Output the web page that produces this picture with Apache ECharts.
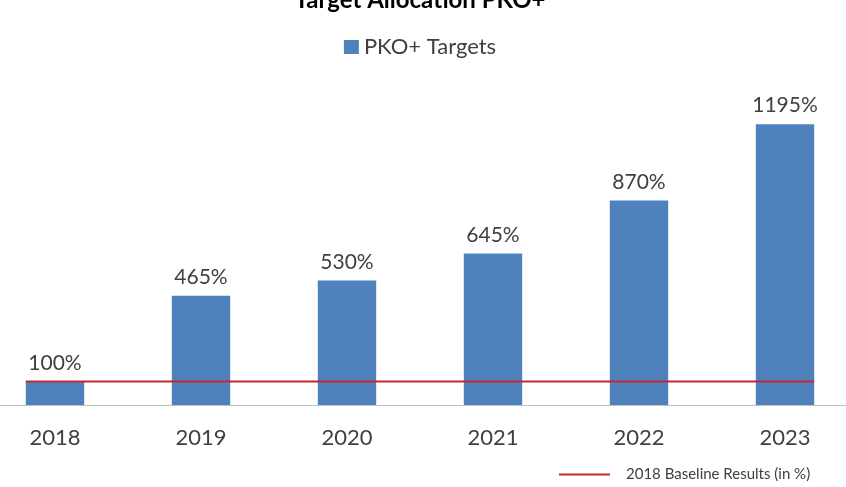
<!DOCTYPE html>
<html>
<head>
<meta charset="utf-8">
<script src="https://cdn.jsdelivr.net/npm/echarts@6/dist/echarts.min.js"></script>
<style>
  html, body { margin: 0; padding: 0; background: #fff; overflow: hidden; }
  /* the plot runs slightly past both window edges, so the chart box is a bit wider */
  #chart { width: 876px; height: 487px; margin-left: -18px; }
</style>
</head>
<body>
<div id="chart"></div>
<script>
// data
const years = ['2018', '2019', '2020', '2021', '2022', '2023']
const targets = [100, 465, 530, 645, 870, 1195]
const baselineValue = 100
// baseline runs from left edge of first bar to right edge of last one (in category units)
const baselineSpan = [0.3, 5.7]

let myChart = echarts.init(document.getElementById('chart'))
const font = 'Lato, "Open Sans", sans-serif'

myChart.setOption({
  animation: false,
  title: {
    text: 'Target Allocation PKO+',
    left: 'center',
    top: -17,
    textStyle: { fontFamily: font, fontSize: 24, fontWeight: 'bold', color: '#000' }
  },
  legend: [
    {
      data: ['PKO+ Targets'],
      top: 31,
      left: 'center',
      itemWidth: 15,
      itemHeight: 14,
      icon: 'rect',
      textStyle: { fontFamily: font, fontSize: 22, color: '#404040' }
    },
    {
      data: [{ name: '2018 Baseline Results (in %)', icon: 'rect' }],
      left: 572,
      top: 462,
      itemWidth: 51,
      itemHeight: 2,
      textStyle: { fontFamily: font, fontSize: 15, color: '#404040', padding: [0, 0, 0, 11] }
    }
  ],
  grid: {
    left: 0,
    right: 0,
    top: 76,
    bottom: 82,
    containLabel: false
  },
  xAxis: [
    {
      type: 'category',
      data: years,
      axisLine: { lineStyle: { color: '#bfbfbf', width: 1 } },
      axisTick: { show: false },
      axisLabel: { fontFamily: font, fontSize: 22, color: '#404040', margin: 22 }
    },
    {
      type: 'value',
      min: 0,
      max: years.length,
      show: false
    }
  ],
  yAxis: {
    type: 'value',
    min: 0,
    max: 1400,
    show: false,
    splitLine: { show: false }
  },
  series: [
    {
      name: 'PKO+ Targets',
      type: 'bar',
      data: targets,
      barCategoryGap: '60%',
      itemStyle: { color: '#4f81bd' },
      label: {
        show: true,
        position: 'top',
        distance: 8,
        formatter: '{c}%',
        fontFamily: font,
        fontSize: 21,
        color: '#404040'
      }
    },
    {
      name: '2018 Baseline Results (in %)',
      type: 'line',
      xAxisIndex: 1,
      data: baselineSpan.map(x => [x, baselineValue]),
      symbol: 'none',
      lineStyle: { color: '#c8262e', width: 2 },
      itemStyle: { color: '#c8262e' },
      z: 5
    }
  ]
})
</script>
</body>
</html>
